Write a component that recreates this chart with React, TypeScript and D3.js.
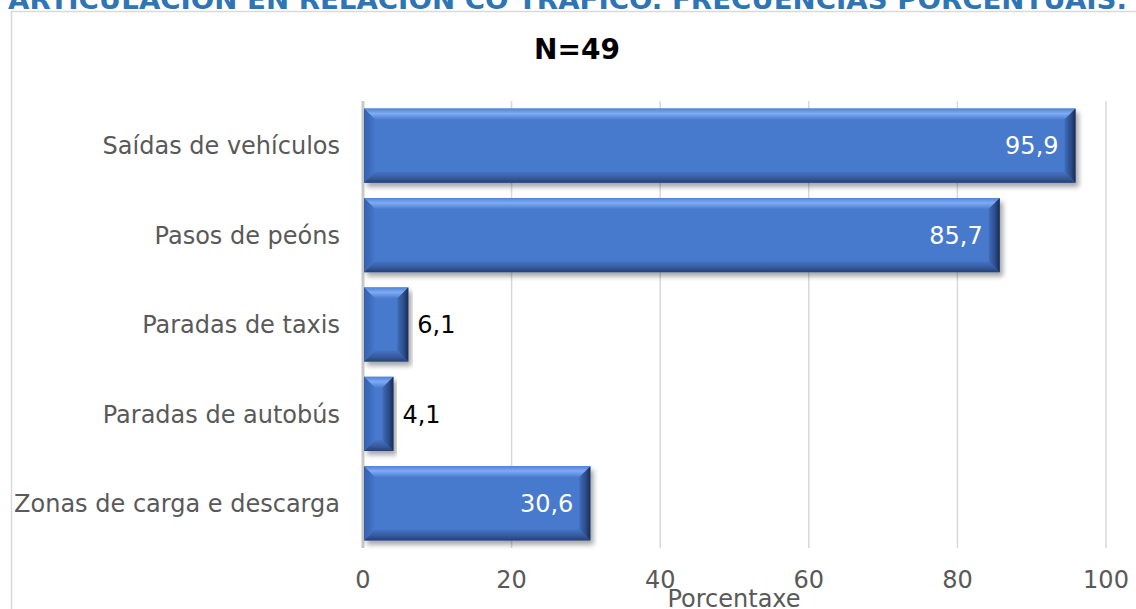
import React from "react";
import * as d3 from "d3";

const categories = [
  "Saídas de vehículos",
  "Pasos de peóns",
  "Paradas de taxis",
  "Paradas de autobús",
  "Zonas de carga e descarga",
];
const values = [95.9, 85.7, 6.1, 4.1, 30.6];
const tickValues = [0, 20, 40, 60, 80, 100];
const titleText = "ARTICULACIÓN EN RELACIÓN CO TRÁFICO. FRECUENCIAS PORCENTUAIS.";
const subtitleText = "N=49";
const axisTitle = "Porcentaxe";

const W = 1136;
const H = 609;
const FONT = "'DejaVu Sans', Verdana, sans-serif";

export default function App() {
  const x = d3.scaleLinear().domain([0, 100]).range([363, 1106]);
  const y = d3
    .scaleBand<string>()
    .domain(categories)
    .range([101, 548])
    .paddingInner(0.17)
    .paddingOuter(0.085);
  const fmt = (v: number) => v.toFixed(1).replace(".", ",");

  return (
    <div style={{ position: "absolute", left: 0, top: 0, width: W, height: H }}>
      <svg width={W} height={H} style={{ display: "block", background: "#fff" }}>
        <defs>
          <linearGradient id="gTop" x1="0" y1="0" x2="0" y2="1">
            <stop offset="0" stopColor="#5083d8" />
            <stop offset="0.45" stopColor="#7eabf3" />
            <stop offset="1" stopColor="#4a7bd0" />
          </linearGradient>
          <linearGradient id="gBot" x1="0" y1="0" x2="0" y2="1">
            <stop offset="0" stopColor="#4574c6" />
            <stop offset="0.6" stopColor="#35599c" />
            <stop offset="1" stopColor="#26406f" />
          </linearGradient>
          <linearGradient id="gLeft" x1="0" y1="0" x2="1" y2="0">
            <stop offset="0" stopColor="#3560ad" />
            <stop offset="1" stopColor="#4677cc" />
          </linearGradient>
          <linearGradient id="gRight" x1="0" y1="0" x2="1" y2="0">
            <stop offset="0" stopColor="#3f6cbb" />
            <stop offset="0.6" stopColor="#2c4b86" />
            <stop offset="1" stopColor="#172a4d" />
          </linearGradient>
          <filter id="shadow" x="-10%" y="-20%" width="120%" height="160%">
            <feDropShadow dx="3" dy="4" stdDeviation="2.5" floodColor="#000" floodOpacity="0.35" />
          </filter>
        </defs>

        {/* title (clipped at top, as in the reference) */}
        <text
          x={8}
          y={9}
          fontFamily="'DejaVu Sans', Verdana, sans-serif"
          fontWeight="bold"
          fontSize={26}
          fill="#2e75b6"
          textLength={1119}
          lengthAdjust="spacingAndGlyphs"
        >
          {titleText}
        </text>

        {/* frame */}
        <rect x={11.5} y={11.5} width={W} height={H} fill="none" stroke="#d9d9d9" strokeWidth={1.5} />

        <text x={577} y={59} textAnchor="middle" fontFamily={FONT} fontWeight="bold" fontSize={28} fill="#000">
          {subtitleText}
        </text>

        {/* gridlines */}
        {tickValues.slice(1).map((t) => (
          <line key={t} x1={x(t)} x2={x(t)} y1={101} y2={548} stroke="#d9d9d9" strokeWidth={1.5} />
        ))}
        <line x1={x(0)} x2={x(0)} y1={101} y2={548} stroke="#c8c8c8" strokeWidth={3} />

        {/* bars */}
        {categories.map((c, i) => {
          const v = values[i];
          const x0 = x(0) + 1;
          const x1 = x(v);
          const y0 = y(c)!;
          const y1 = y0 + y.bandwidth();
          const w = x1 - x0;
          const b = Math.min(11, w / 2);
          const bv = 11;
          const pts = (arr: number[][]) => arr.map((p) => p.join(",")).join(" ");
          return (
            <g key={c} filter="url(#shadow)">
              <rect x={x0} y={y0} width={w} height={y1 - y0} fill="#4779cd" />
              <polygon points={pts([[x0, y0], [x1, y0], [x1 - b, y0 + bv], [x0 + b, y0 + bv]])} fill="url(#gTop)" />
              <polygon points={pts([[x0, y1], [x1, y1], [x1 - b, y1 - bv], [x0 + b, y1 - bv]])} fill="url(#gBot)" />
              <polygon points={pts([[x0, y0], [x0 + b, y0 + bv], [x0 + b, y1 - bv], [x0, y1]])} fill="url(#gLeft)" />
              <polygon points={pts([[x1, y0], [x1 - b, y0 + bv], [x1 - b, y1 - bv], [x1, y1]])} fill="url(#gRight)" />
            </g>
          );
        })}

        {/* value labels */}
        {categories.map((c, i) => {
          const v = values[i];
          const inside = v > 20;
          const cy = y(c)! + y.bandwidth() / 2;
          return (
            <text
              key={c}
              x={inside ? x(v) - 17 : x(v) + 9}
              y={cy}
              dy="0.36em"
              textAnchor={inside ? "end" : "start"}
              fontFamily={FONT}
              fontSize={24}
              fill={inside ? "#ffffff" : "#000000"}
            >
              {fmt(v)}
            </text>
          );
        })}

        {/* category labels */}
        {categories.map((c) => (
          <text
            key={c}
            x={340}
            y={y(c)! + y.bandwidth() / 2}
            dy="0.36em"
            textAnchor="end"
            fontFamily={FONT}
            fontSize={24}
            fill="#595959"
          >
            {c}
          </text>
        ))}

        {/* x tick labels */}
        {tickValues.map((t) => (
          <text key={t} x={x(t)} y={588} textAnchor="middle" fontFamily={FONT} fontSize={24} fill="#595959">
            {t}
          </text>
        ))}

        <text x={734} y={607} textAnchor="middle" fontFamily={FONT} fontSize={24} fill="#595959">
          {axisTitle}
        </text>
      </svg>
    </div>
  );
}
